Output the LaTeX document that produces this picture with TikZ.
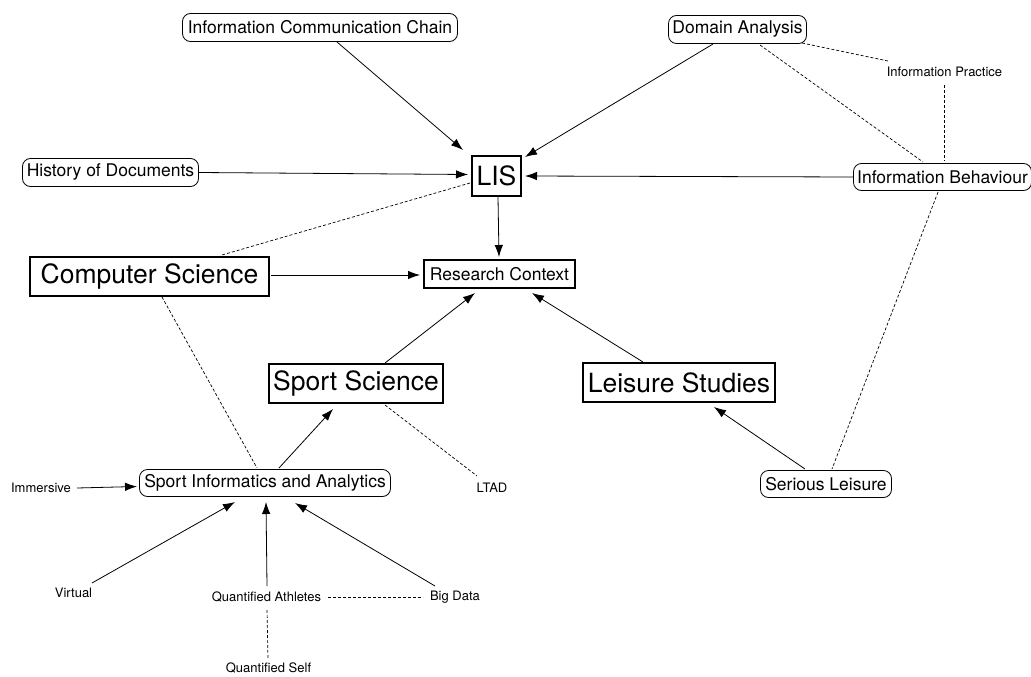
\documentclass[tikz,border=0pt]{standalone}
\usepackage{fontspec}
\setmainfont{TeX Gyre Heros}
\usetikzlibrary{arrows.meta,calc}
\tikzset{
  topic/.style={draw, line width=1.6pt, inner sep=0pt, font=\fontsize{26.5}{28}\selectfont},
  midbox/.style={draw, line width=1.6pt, inner sep=0pt, font=\fontsize{17.5}{19}\selectfont},
  pill/.style={draw, line width=0.8pt, rounded corners=8pt, inner sep=0pt, font=\fontsize{17.5}{19}\selectfont},
  term/.style={inner sep=0pt, font=\fontsize{13}{14}\selectfont},
  link/.style={line width=0.8pt, -{Latex[length=12pt,width=8.5pt]}},
  assoc/.style={line width=0.7pt, dash pattern=on 3pt off 2pt}
}
\begin{document}
\begin{tikzpicture}[x=1pt,y=-1pt]
\useasboundingbox (0,0) rectangle (1031,677);

% concept nodes
\node[pill, minimum width=275pt, minimum height=28pt] (icc) at (320,27.5) {Information Communication Chain};
\node[pill, minimum width=138pt, minimum height=28pt] (da) at (737.5,29.5) {Domain Analysis};
\node[term] (ip) at (944.5,72) {Information Practice};
\node[pill, minimum width=176pt, minimum height=28pt] (hod) at (110.5,172.5) {History of Documents};
\node[topic, minimum width=49pt, minimum height=40pt] (lis) at (496.5,176) {LIS};
\node[pill, minimum width=178pt, minimum height=27pt] (ib) at (942.5,177) {Information Behaviour};
\node[topic, minimum width=239pt, minimum height=39pt] (cs) at (149.5,276.5) {Computer Science};
\node[midbox, minimum width=151pt, minimum height=28pt] (rc) at (499.5,274) {Research Context};
\node[topic, minimum width=174pt, minimum height=39pt] (ss) at (356,383.5) {Sport Science};
\node[topic, minimum width=192pt, minimum height=39pt] (ls) at (679,382.5) {Leisure Studies};
\node[pill, minimum width=251pt, minimum height=27pt] (sia) at (265,483) {Sport Informatics and Analytics};
\node[term] (imm) at (41,488) {Immersive};
\node[term] (ltad) at (492,488) {LTAD};
\node[pill, minimum width=131pt, minimum height=27pt] (sl) at (826,484) {Serious Leisure};
\node[term] (vir) at (73.5,593) {Virtual};
\node[term] (qa) at (266.5,597) {Quantified Athletes};
\node[term] (bd) at (455,597) {Big Data};
\node[term] (qs) at (268.5,668) {Quantified Self};

% directed links
\draw[link] ($(icc)+(17,14.5)$) -- ($(lis)+(-33.5,-26)$);
\draw[link] (hod.east) -- ($(lis)+(-28.5,-1.5)$);
\draw[link] ($(da)+(-24.5,14.5)$) -- ($(lis)+(28.5,-19)$);
\draw[link] (ib.west) -- ($(lis)+(28.5,0)$);
\draw[link] ($(lis)+(1.5,21)$) -- ($(rc)+(-0.5,-17)$);
\draw[link] ($(cs)+(121.5,-1.5)$) -- ($(rc)+(-79.5,1)$);
\draw[link] ($(ss)+(29,-20.5)$) -- ($(rc)+(-24.5,19)$);
\draw[link] ($(ls)+(-36,-20.5)$) -- ($(rc)+(32.5,19)$);
\draw[link] ($(sia)+(14,-15)$) -- ($(ss)+(-23,25.5)$);
\draw[link] ($(imm)+(36,0)$) -- ($(sia)+(-128,3.5)$);
\draw[link] ($(vir)+(18.5,-10)$) -- ($(sia)+(-30,19)$);
\draw[link] ($(qa)+(0.5,-11)$) -- ($(sia)+(1,19)$);
\draw[link] ($(bd)+(-20,-11)$) -- ($(sia)+(30,20)$);
\draw[link] ($(sl)+(-21,-15)$) -- ($(ls)+(35,24.5)$);

% undirected associations
\draw[assoc] ($(lis)+(-26.5,7)$) -- ($(cs)+(72.5,-21.5)$);
\draw[assoc] ($(cs)+(12.5,20.5)$) -- ($(sia)+(-8,-15)$);
\draw[assoc] ($(ss)+(29,21.5)$) -- ($(ltad)+(-15,-12)$);
\draw[assoc] ($(da)+(64.5,13.5)$) -- ($(ip)+(-56.5,-11)$);
\draw[assoc] ($(da)+(22.5,15.5)$) -- ($(ib)+(-19.5,-15)$);
\draw[assoc] ($(ip)+(-0.5,13)$) -- ($(ib)+(1.5,-16)$);
\draw[assoc] ($(ib)+(-4.5,15)$) -- ($(sl)+(6,-15)$);
\draw[assoc] ($(qa)+(61.5,0)$) -- ($(bd)+(-32,0)$);
\draw[assoc] ($(qa)+(0.5,13)$) -- ($(qs)+(-0.5,-9)$);
\end{tikzpicture}
\end{document}
